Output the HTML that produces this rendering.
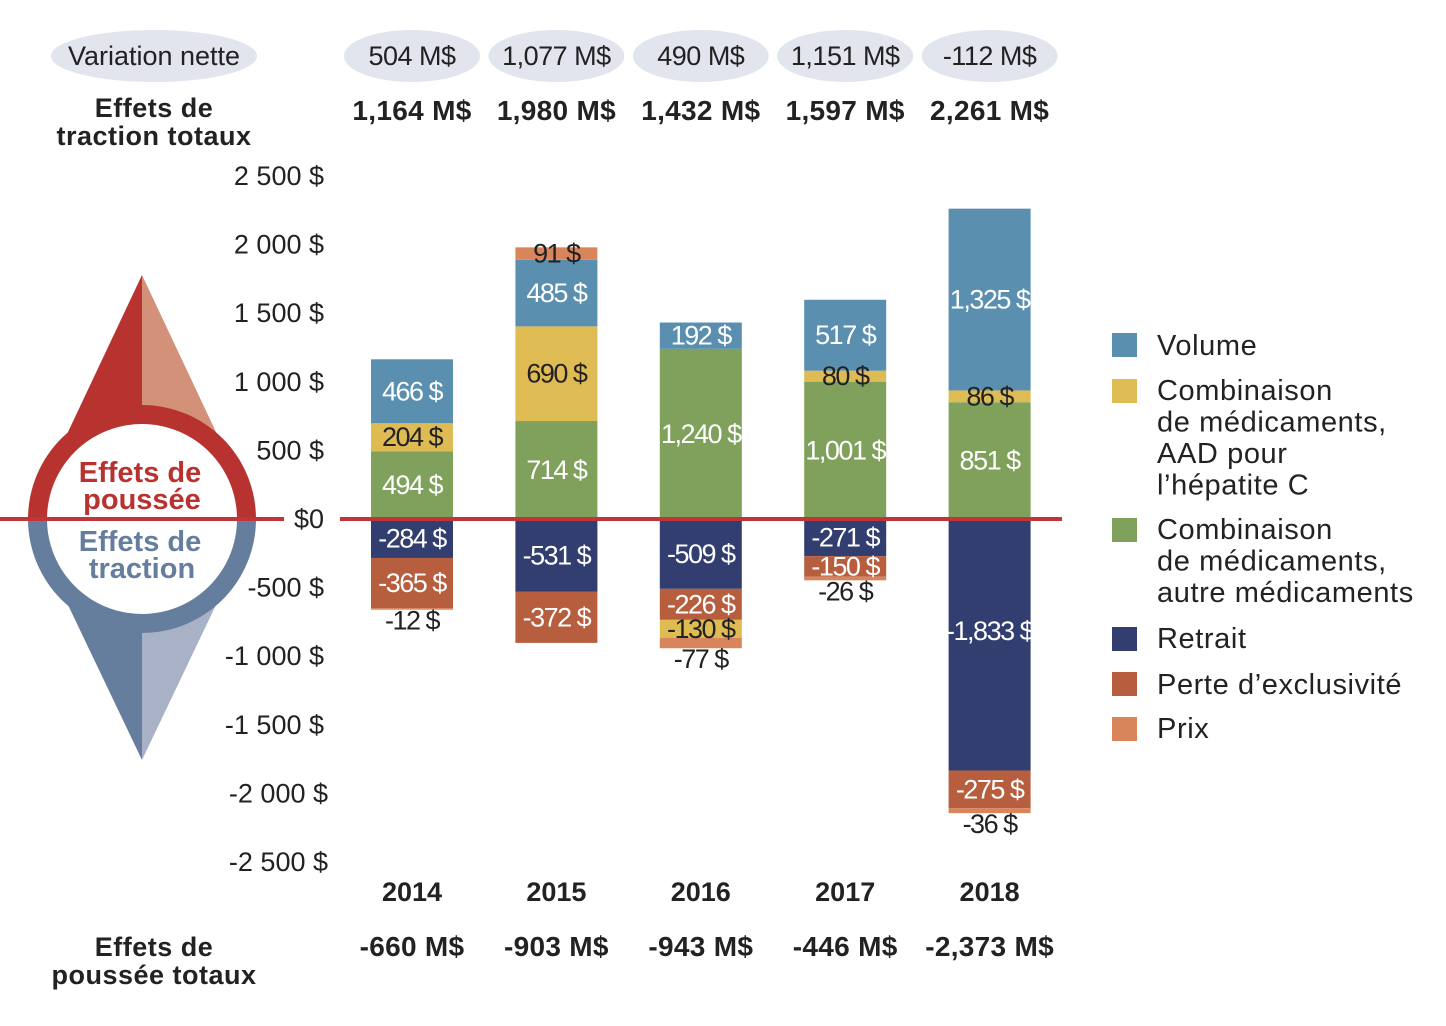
<!DOCTYPE html>
<html><head><meta charset="utf-8"><style>
html,body{margin:0;padding:0;background:#fff;}
svg{display:block;font-family:"Liberation Sans",sans-serif;}
</style></head><body>
<svg id="chart" width="1446" height="1026" viewBox="0 0 1446 1026" xmlns="http://www.w3.org/2000/svg">
<g id="yaxis"></g>
<g id="compass">
  <polygon points="142,275 27,519 142,519" fill="#b83230"/>
  <polygon points="142,275 257,519 142,519" fill="#d3917a"/>
  <polygon points="142,760 27,519 142,519" fill="#667e9e"/>
  <polygon points="142,760 257,519 142,519" fill="#a8b1c6"/>
  <path d="M28,519 A114,114 0 0 1 256,519 Z" fill="#b83230"/>
  <path d="M28,519 A114,114 0 0 0 256,519 Z" fill="#667e9e"/>
  <circle cx="142" cy="519" r="95" fill="#fff"/>
  <rect x="0" y="517" width="284" height="4" fill="#c0353a"/>
  <text x="140" y="482" text-anchor="middle" font-size="29" font-weight="bold" fill="#b83230">Effets de</text>
  <text x="142" y="509" text-anchor="middle" font-size="29" font-weight="bold" fill="#b83230">poussée</text>
  <text x="140" y="551" text-anchor="middle" font-size="29" font-weight="bold" fill="#667e9e">Effets de</text>
  <text x="142" y="578" text-anchor="middle" font-size="29" font-weight="bold" fill="#667e9e">traction</text>
</g>
<g id="bars"></g>
<rect x="340" y="517" width="722" height="4" fill="#c0353a"/>
<g id="labels"></g>
<g id="top">
  <ellipse cx="154" cy="56" rx="103" ry="26" fill="#e2e4ee"/>
  <text x="154" y="65" text-anchor="middle" font-size="27" fill="#222">Variation nette</text>
  <text x="154" y="117" text-anchor="middle" font-size="27" font-weight="bold" letter-spacing="0.5" fill="#222">Effets de</text>
  <text x="154" y="145" text-anchor="middle" font-size="27" font-weight="bold" letter-spacing="0.5" fill="#222">traction totaux</text>
  <text x="154" y="956" text-anchor="middle" font-size="27" font-weight="bold" letter-spacing="0.5" fill="#222">Effets de</text>
  <text x="154" y="984" text-anchor="middle" font-size="27" font-weight="bold" letter-spacing="0.5" fill="#222">poussée totaux</text>
</g>
<g id="legend"></g>
</svg>
<script>
const years = ["2014","2015","2016","2017","2018"];
const netLabels = ["504 M$","1,077 M$","490 M$","1,151 M$","-112 M$"];
const pullTotals = ["1,164 M$","1,980 M$","1,432 M$","1,597 M$","2,261 M$"];
const pushTotals = ["-660 M$","-903 M$","-943 M$","-446 M$","-2,373 M$"];
const greenVals = [494, 714, 1240, 1001, 851];
const yellowVals = [204, 690, 0, 80, 86];
const volumeVals = [466, 485, 192, 517, 1325];
const prixPosVals = [0, 91, 0, 0, 0];
const retraitVals = [-284, -531, -509, -271, -1833];
const perteVals = [-365, -372, -226, -150, -275];
const yellowNegVals = [0, 0, -130, 0, 0];
const prixNegVals = [-12, 0, -77, -26, -36];
const yTicks = [2500, 2000, 1500, 1000, 500, 0, -500, -1000, -1500, -2000, -2500];
const yTickLabels = ["2 500 $","2 000 $","1 500 $","1 000 $","500 $","$0","-500 $","-1 000 $","-1 500 $","-2 000 $","-2 500 $"];

const C = {green:"#7fa15b", yellow:"#dfbb54", blue:"#5a8fb0", prix:"#d8855b", retrait:"#333e70", perte:"#b65e3e"};
const NS = "http://www.w3.org/2000/svg";
const y = v => 519 - v * 0.1372;
const xc = i => 412 + i * 144.4;
const BW = 82;
function mk(tag, attrs, parent, txt){const e=document.createElementNS(NS,tag);for(const k in attrs)e.setAttribute(k,attrs[k]);if(txt!==undefined)e.textContent=txt;parent.appendChild(e);return e;}
const fmt = v => { const a=Math.abs(v); const s=a>=1000?Math.floor(a/1000)+","+String(a%1000).padStart(3,"0"):String(a); return (v<0?"-":"")+s+" $"; };

const yaxis=document.getElementById('yaxis');
yTicks.forEach((t,i)=>{
  const e=mk('text',{x: t<=-2000?328:324, y:y(t)+9, 'text-anchor':'end','font-size':27,fill:'#222'},yaxis,yTickLabels[i]);
  
  
});

const bars=document.getElementById('bars'), labels=document.getElementById('labels');
const pos=[[greenVals,C.green,'green'],[yellowVals,C.yellow,'yellow'],[volumeVals,C.blue,'volume'],[prixPosVals,C.prix,'prix']];
const neg=[[retraitVals,C.retrait,'retrait'],[perteVals,C.perte,'perte'],[yellowNegVals,C.yellow,'yellow'],[prixNegVals,C.prix,'prix']];
years.forEach((yr,i)=>{
  [pos,neg].forEach((stack,si)=>{
    let acc=0;
    const nonzero=stack.filter(s=>s[0][i]!==0);
    stack.forEach(([vals,col,nm])=>{
      const v=vals[i]; if(!v) return;
      const y0=y(acc), y1=y(acc+v); acc+=v;
      const top=Math.min(y0,y1), h=Math.abs(y1-y0);
      const r=mk('rect',{x:xc(i)-BW/2,y:top,width:BW,height:h,fill:col},bars);
      
      
      const last = nonzero[nonzero.length-1][0]===vals;
      let ly = top+Math.min(h/2,112)+9, fill='#fff';
      if(si===1 && last && h<12){ ly = top+h+20; fill='#222'; }
      if(col===C.yellow || h<15) fill='#222';
      const t=mk('text',{x:xc(i),y:ly,'text-anchor':'middle','font-size':27,'letter-spacing':'-1.5',fill:fill},labels,fmt(v));
      
      
    });
  });
  const top=document.getElementById('top');
  const el=mk('ellipse',{cx:xc(i),cy:56,rx:68,ry:26,fill:'#e2e4ee'},top);
  
  
  const t1=mk('text',{x:xc(i),y:65,'text-anchor':'middle','font-size':27,'letter-spacing':'-0.5',fill:'#222'},top,netLabels[i]);
  
  
  const t2=mk('text',{x:xc(i),y:120,'text-anchor':'middle','font-size':28,'font-weight':'bold','letter-spacing':'0.3',fill:'#222'},top,pullTotals[i]);
  
  
  const t3=mk('text',{x:xc(i),y:901,'text-anchor':'middle','font-size':27,'font-weight':'bold',fill:'#222'},top,yr);
  
  
  const t4=mk('text',{x:xc(i),y:956,'text-anchor':'middle','font-size':28,'font-weight':'bold','letter-spacing':'0.3',fill:'#222'},top,pushTotals[i]);
  
  
});

const legendItems=[
  [C.blue,333,["Volume"],355],
  [C.yellow,379,["Combinaison","de médicaments,","AAD pour","l’hépatite C"],400],
  [C.green,518,["Combinaison","de médicaments,","autre médicaments"],539],
  [C.retrait,627,["Retrait"],648],
  [C.perte,672,["Perte d’exclusivité"],694],
  [C.prix,717,["Prix"],738]];
const lg=document.getElementById('legend');
legendItems.forEach(([col,sy,lines,by])=>{
  const r=mk('rect',{x:1112,y:sy,width:25,height:24,fill:col},lg);
  
  
  lines.forEach((l,k)=>{
    const t=mk('text',{x:1157,y:by+k*31.5,'font-size':29,'letter-spacing':'0.6',fill:'#222'},lg,l);
    
    
  });
});
</script>
</body></html>
